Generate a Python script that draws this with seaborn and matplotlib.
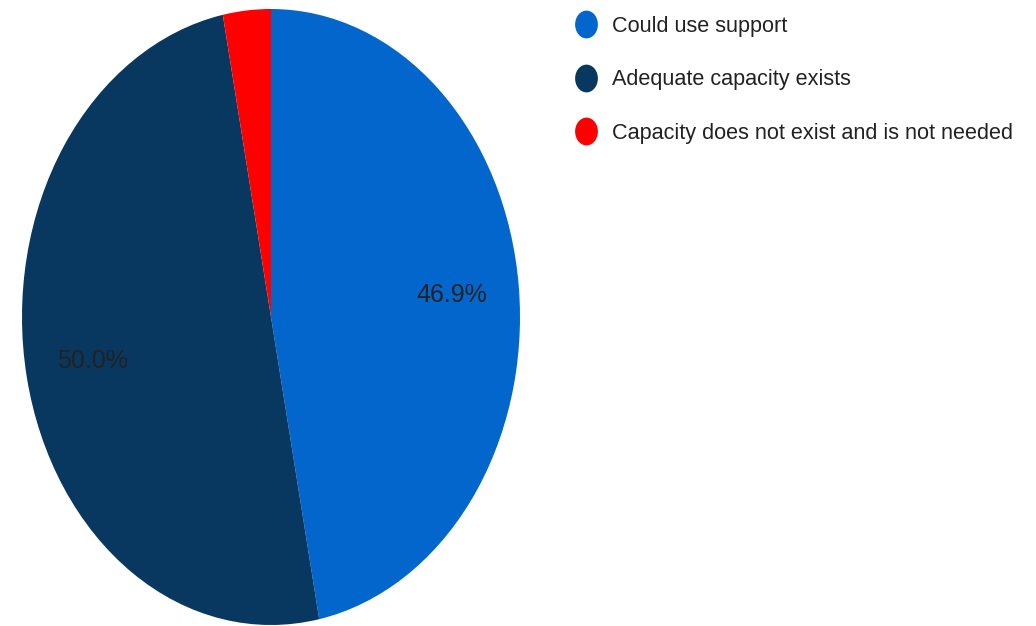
import matplotlib
matplotlib.use('Agg')
import matplotlib.pyplot as plt
import seaborn as sns
from matplotlib.lines import Line2D
from matplotlib.path import Path
from matplotlib.transforms import Affine2D

# data
categories = ['Could use support', 'Adequate capacity exists',
              'Capacity does not exist and is not needed']
shares = [46.9, 50.0, 3.1]
colors = ['#0366CC', '#08375F', '#FF0000']

sns.set_theme(style='white')
plt.rcParams['font.family'] = ['Liberation Sans', 'DejaVu Sans']

W, H = 1036, 626
fig = plt.figure(figsize=(W / 100, H / 100), dpi=100)

# pie is stretched into an ellipse, so place axes by pixels
left, right, top, bottom = 22, 520, 9, 625
ax = fig.add_axes([left / W, (H - bottom) / H, (right - left) / W, (bottom - top) / H])

def pct_label(p):
    return f'{p:.1f}%' if p > 5 else ''

wedges, texts, autotexts = ax.pie(
    shares, colors=colors, startangle=90, counterclock=False,
    autopct=pct_label, pctdistance=0.73,
    wedgeprops=dict(linewidth=0),
    textprops=dict(fontsize=18, color='#222222'))
ax.set_aspect('auto')
ax.set_xlim(-1, 1)
ax.set_ylim(-1, 1)
ax.axis('off')

# tall elliptical legend markers
ell = Path.unit_circle().transformed(Affine2D().scale(0.82, 1.0))
handles = [Line2D([], [], linestyle='none', marker=ell, markersize=20,
                  markerfacecolor=c, markeredgewidth=0) for c in colors]
fig.legend(handles, categories, loc='upper left',
           bbox_to_anchor=(566 / W, 1 - 7 / H), frameon=False,
           fontsize=15.6, labelspacing=1.5, handletextpad=0.72,
           handlelength=1.0, labelcolor='#222222', borderaxespad=0)

fig.savefig('out.png', dpi=100)
plt.close(fig)
